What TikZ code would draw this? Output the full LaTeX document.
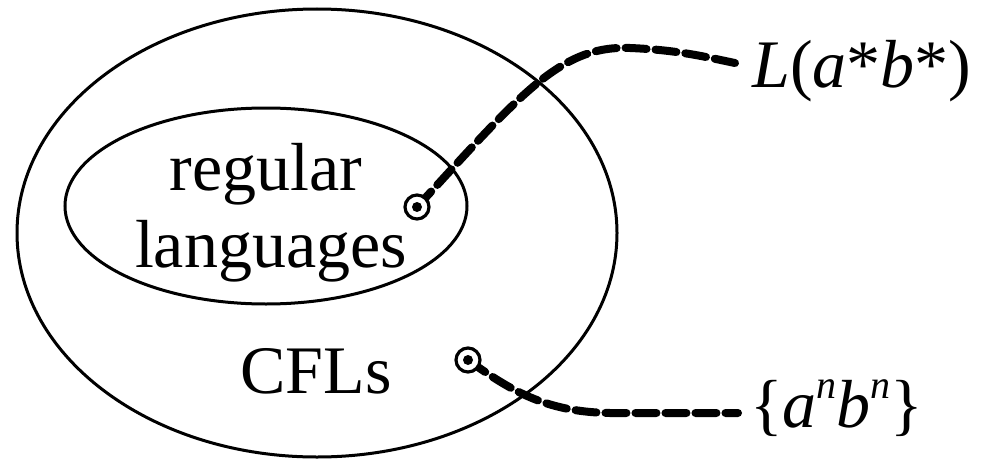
\documentclass[tikz,border=0pt]{standalone}
\usepackage{fontspec}
\setmainfont{Liberation Serif}
\newfontfamily\timesfam{Liberation Serif}
\begin{document}
\begin{tikzpicture}[x=1pt,y=-1pt,
  setline/.style={line width=3pt},
  dashlink/.style={line width=8pt,dash pattern=on 21pt off 9pt,line cap=round},
  ring/.style={circle,draw,line width=3.2pt,minimum size=24pt,inner sep=0pt,fill=white},
  pip/.style={circle,fill=black,minimum size=10pt,inner sep=0pt},
  bigtext/.style={font=\timesfam\fontsize{68}{77}\selectfont,inner sep=0pt}]
\useasboundingbox (0,0) rectangle (998,460);
\draw[setline] (317,233) ellipse [x radius=300, y radius=224];
\draw[setline] (266,206) ellipse [x radius=201, y radius=98];
\node[bigtext,anchor=base] (reg) at (266,190) {regular};
\node[bigtext,anchor=base] (lang) at (271,267) {languages};
\node[bigtext,anchor=base] (cfl) at (316,393) {CFLs};
\node[bigtext,anchor=base west] (l1) at (752,88) {\textit{L}(\textit{a}*\textit{b}*)};
\node[bigtext,anchor=base west] (l2) at (750,427) {\{\textit{a}\raisebox{0.42em}{\fontsize{40}{40}\selectfont\textit{n}}\textit{b}\raisebox{0.42em}{\fontsize{40}{40}\selectfont\textit{n}}\}};
\coordinate (e1) at (735,63);
\coordinate (e2) at (738,413);
\draw[dashlink] (417,207) .. controls (520,95) and (560,45) .. (630,48) .. controls (680,50) and (710,58) .. (e1);
\draw[dashlink] (468,360) .. controls (510,390) and (545,412) .. (610,413) -- (e2);
\node[ring] (d1) at (417,207) {};
\node[pip] at (d1.center) {};
\node[ring] (d2) at (468,360) {};
\node[pip] at (d2.center) {};
\end{tikzpicture}
\end{document}
